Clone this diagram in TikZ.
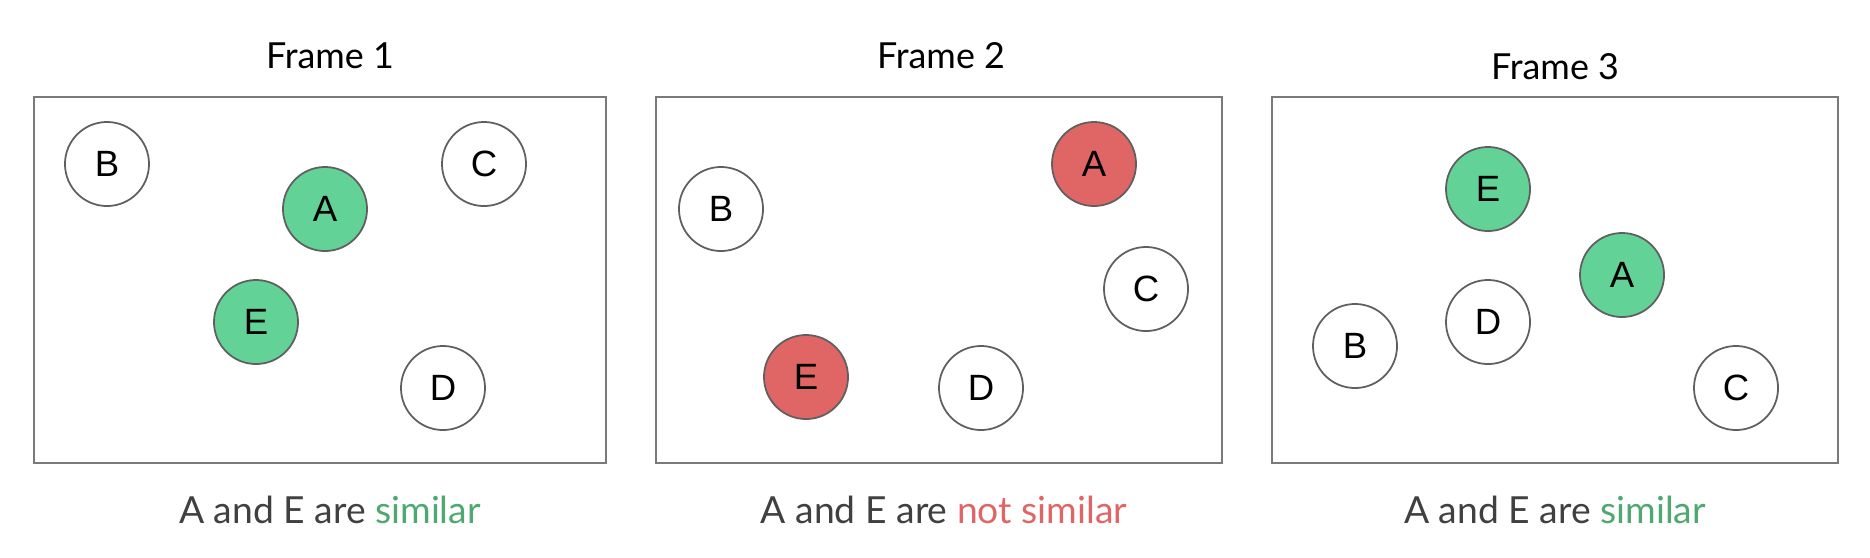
\documentclass[tikz,border=0pt]{standalone}
\usepackage{fontspec}
\setmainfont{Lato}
\newfontfamily\letterfont{Liberation Sans}
\definecolor{simgreen}{HTML}{63D297}
\definecolor{simred}{HTML}{E06666}
\definecolor{txtgreen}{HTML}{4FA872}
\definecolor{txtgray}{HTML}{404040}
\definecolor{edgegray}{HTML}{5F5F5F}
\definecolor{boxgray}{HTML}{7A7A7A}
\begin{document}
\begin{tikzpicture}[x=0.01cm, y=-0.01cm,
  dot/.style={circle, draw=edgegray, line width=0.5pt, fill=white, minimum size=0.84cm,
    inner sep=0pt, font=\letterfont\fontsize{10.4}{12}\selectfont},
  same/.style={dot, fill=simgreen},
  diff/.style={dot, fill=simred},
  framebox/.style={draw=boxgray, line width=0.6pt},
  title/.style={font=\fontsize{10.2}{12}\selectfont},
  caption/.style={text=txtgray, font=\fontsize{10.6}{12}\selectfont}]

\useasboundingbox (0,0) rectangle (1870,557);

% frame 1
\draw [framebox] (34,97) rectangle (606,463);
\node [title] (t1) at (330,56) {Frame 1};
\node [dot] (b1) at (107,164) {B};
\node [same] (a1) at (325,209) {A};
\node [dot] (c1) at (484,164) {C};
\node [same] (e1) at (256,322) {E};
\node [dot] (d1) at (443,388) {D};
\node [caption] (s1) at (330,510) {A and E are \textcolor{txtgreen}{similar}};

% frame 2
\draw [framebox] (656,97) rectangle (1222,463);
\node [title] (t2) at (941,56) {Frame 2};
\node [dot] (b2) at (721,209) {B};
\node [diff] (a2) at (1094,164) {A};
\node [dot] (c2) at (1146,289) {C};
\node [diff] (e2) at (806,377) {E};
\node [dot] (d2) at (981,388) {D};
\node [caption] (s2) at (944,510) {A and E are \textcolor{simred}{not similar}};

% frame 3
\draw [framebox] (1272,97) rectangle (1838,463);
\node [title] (t3) at (1555,67) {Frame 3};
\node [same] (e3) at (1488,189) {E};
\node [same] (a3) at (1622,275) {A};
\node [dot] (d3) at (1488,322) {D};
\node [dot] (b3) at (1355,346) {B};
\node [dot] (c3) at (1736,388) {C};
\node [caption] (s3) at (1555,510) {A and E are \textcolor{txtgreen}{similar}};

\end{tikzpicture}
\end{document}
